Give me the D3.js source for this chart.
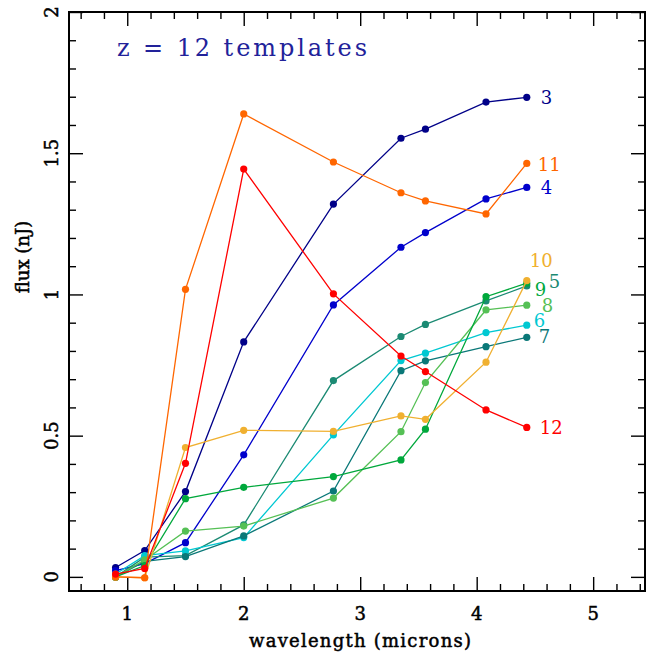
<!DOCTYPE html>
<html>
<head>
<meta charset="utf-8">
<script src="https://cdn.jsdelivr.net/npm/d3@7"></script>
<style>
  body { margin: 0; background: #fff; }
  text { font-family: "DejaVu Serif", serif; }
</style>
</head>
<body>
<div id="grafico"></div>
<script>
// Datos de las plantillas
var wavelengths = [0.90, 1.15, 1.50, 2.00, 2.77, 3.35, 3.56, 4.08, 4.43];
var templates = ["3", "4", "5", "6", "7", "8", "9", "10", "11", "12"];

var flux3  = [0.033, 0.093, 0.302, 0.832, 1.320, 1.553, 1.585, 1.681, 1.698];
var flux4  = [0.022, 0.047, 0.121, 0.432, 0.963, 1.167, 1.219, 1.338, 1.379];
var flux5  = [0.000, 0.070, 0.075, 0.184, 0.695, 0.851, 0.894, 0.977, 1.030];
var flux6  = [0.010, 0.075, 0.092, 0.139, 0.503, 0.766, 0.792, 0.865, 0.891];
var flux7  = [0.000, 0.055, 0.072, 0.145, 0.304, 0.730, 0.765, 0.815, 0.848];
var flux8  = [0.000, 0.060, 0.162, 0.180, 0.279, 0.514, 0.688, 0.945, 0.962];
var flux9  = [0.000, 0.040, 0.277, 0.317, 0.355, 0.414, 0.523, 0.992, 1.040];
var flux10 = [0.000, -0.003, 0.458, 0.519, 0.515, 0.570, 0.558, 0.760, 1.049];
var flux11 = [0.000, -0.003, 1.018, 1.639, 1.469, 1.360, 1.331, 1.285, 1.464];
var flux12 = [0.010, 0.030, 0.402, 1.444, 1.002, 0.782, 0.727, 0.591, 0.529];

var xTicks = [1, 2, 3, 4, 5];
var yTicks = [0, 0.5, 1, 1.5, 2];
var yTickLabels = ["0", "0.5", "1", "1.5", "2"];

// Estilos por plantilla
var colores = {
    "3": "#000088", "4": "#0000cc", "5": "#1b8a73", "6": "#00c8d2",
    "7": "#0a7878", "8": "#55c055", "9": "#00a83c", "10": "#f0b030",
    "11": "#ff6600", "12": "#ff0000"
};
// desplazamiento de las etiquetas respecto al ultimo punto (px)
var offsets = {
    "3": [14, 7], "4": [14, 7], "5": [22, 2], "6": [7, 2], "7": [12, 6],
    "8": [15, 7], "9": [8, 13], "10": [3, -14], "11": [11, 8], "12": [13, 7]
};

var series = [flux3, flux4, flux5, flux6, flux7, flux8, flux9, flux10, flux11, flux12];

var width = 646;
var height = 652;

var svg = d3.select("#grafico")
    .append("svg")
    .attr("width", width)
    .attr("height", height);

var x = d3.scaleLinear().domain([0.5, 5.445]).range([69, 645]);
var y = d3.scaleLinear().domain([-0.05, 2]).range([591, 12]);

// Marcas de los ejes
var xMinor = d3.range(0.6, 5.44, 0.2).filter(function(v) {
    return Math.abs(v - Math.round(v)) > 0.01;
});
var yMinor = d3.range(0, 2.001, 0.1).filter(function(v) {
    return Math.abs(v * 2 - Math.round(v * 2)) > 0.01;
});

function ejes(axis, tr) {
    var g = svg.append("g").attr("transform", tr).call(axis);
    g.select(".domain").remove();
    g.selectAll("line").attr("stroke", "#000").attr("stroke-width", 1.4);
    return g;
}

ejes(d3.axisBottom(x).tickValues(xTicks).tickSize(-14).tickFormat(""), "translate(0,591)");
ejes(d3.axisBottom(x).tickValues(xMinor).tickSize(-7).tickFormat(""), "translate(0,591)");
ejes(d3.axisTop(x).tickValues(xTicks).tickSize(-14).tickFormat(""), "translate(0,12)");
ejes(d3.axisTop(x).tickValues(xMinor).tickSize(-7).tickFormat(""), "translate(0,12)");
ejes(d3.axisLeft(y).tickValues(yTicks).tickSize(-14).tickFormat(""), "translate(69,0)");
ejes(d3.axisLeft(y).tickValues(yMinor).tickSize(-7).tickFormat(""), "translate(69,0)");
ejes(d3.axisRight(y).tickValues(yTicks).tickSize(-14).tickFormat(""), "translate(645,0)");
ejes(d3.axisRight(y).tickValues(yMinor).tickSize(-7).tickFormat(""), "translate(645,0)");

// Marco
svg.append("rect")
    .attr("x", 69)
    .attr("y", 12)
    .attr("width", 576)
    .attr("height", 579)
    .attr("fill", "none")
    .attr("stroke", "#000")
    .attr("stroke-width", 2);

// Etiquetas de los ejes (trazo un poco grueso)
svg.selectAll(".xlab")
    .data(xTicks)
    .enter()
    .append("text")
    .attr("x", function(d) { return x(d); })
    .attr("y", 620)
    .attr("text-anchor", "middle")
    .attr("font-size", 18)
    .attr("stroke", "#000")
    .attr("stroke-width", 0.5)
    .text(function(d) { return d; });

svg.selectAll(".ylab")
    .data(yTicks)
    .enter()
    .append("text")
    .attr("transform", function(d) { return "translate(58," + y(d) + ") rotate(-90)"; })
    .attr("text-anchor", "middle")
    .attr("font-size", 18)
    .attr("stroke", "#000")
    .attr("stroke-width", 0.5)
    .text(function(d, i) { return yTickLabels[i]; });

svg.append("text")
    .attr("x", 360)
    .attr("y", 647)
    .attr("text-anchor", "middle")
    .attr("font-size", 18)
    .attr("textLength", 222)
    .attr("stroke", "#000")
    .attr("stroke-width", 0.5)
    .text("wavelength (microns)");

svg.append("text")
    .attr("transform", "translate(29,257) rotate(-90)")
    .attr("text-anchor", "middle")
    .attr("font-size", 18)
    .attr("stroke", "#000")
    .attr("stroke-width", 0.5)
    .text("flux (nJ)");

svg.append("text")
    .attr("x", 117)
    .attr("y", 56)
    .attr("font-size", 24)
    .attr("textLength", 250)
    .attr("lengthAdjust", "spacing")
    .attr("fill", "#22229a")
    .text("z = 12 templates");

// Lineas y puntos
var line = d3.line()
    .x(function(d, i) { return x(wavelengths[i]); })
    .y(function(d) { return y(d); });

series.forEach(function(valores, k) {
    var nombre = templates[k];
    var color = colores[nombre];

    svg.append("path")
        .datum(valores)
        .attr("d", line)
        .attr("fill", "none")
        .attr("stroke", color)
        .attr("stroke-width", 1.3);

    svg.selectAll(".p" + nombre)
        .data(valores)
        .enter()
        .append("circle")
        .attr("cx", function(d, i) { return x(wavelengths[i]); })
        .attr("cy", function(d) { return y(d); })
        .attr("r", 3.6)
        .attr("fill", color);

    var n = valores.length - 1;
    svg.append("text")
        .attr("x", x(wavelengths[n]) + offsets[nombre][0])
        .attr("y", y(valores[n]) + offsets[nombre][1])
        .attr("font-size", 18)
        .attr("fill", color)
        .text(nombre);
});
</script>
</body>
</html>
